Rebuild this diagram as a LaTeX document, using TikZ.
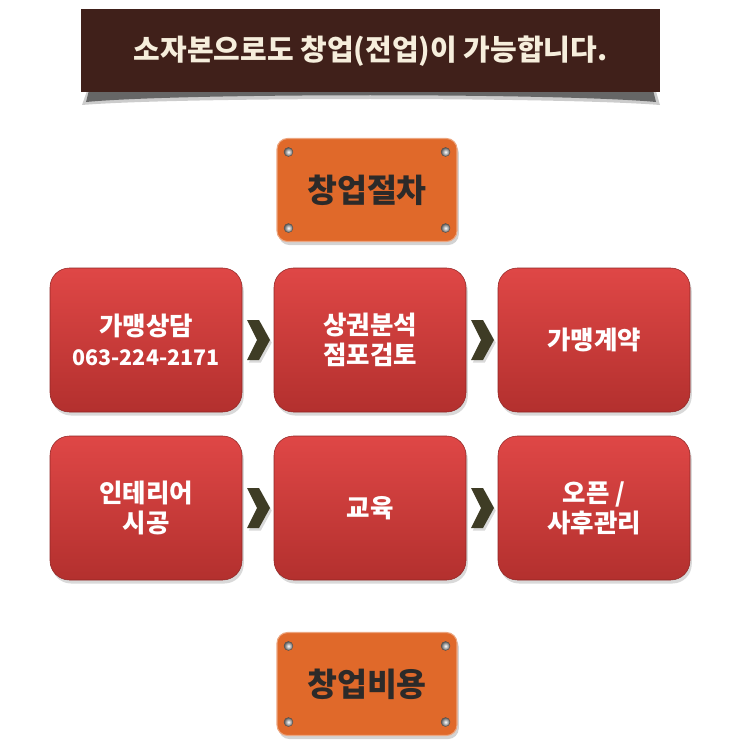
\documentclass[tikz,border=0pt]{standalone}
\usepackage{fontspec}
\setmainfont{Noto Sans CJK KR}
\usetikzlibrary{shadows,calc}

\definecolor{bannerbrown}{HTML}{40201A}
\definecolor{bannertext}{HTML}{F6EEDC}
\definecolor{padorange}{HTML}{E0692A}
\definecolor{padtext}{HTML}{2C2A29}
\definecolor{boxtop}{HTML}{DF4746}
\definecolor{boxbot}{HTML}{B3302E}
\definecolor{chevcol}{HTML}{3E3C25}

\newcommand{\hangul}{\fontsize{14.5}{17}\selectfont}

\tikzset{
  banner/.style={fill=bannerbrown, minimum width=579*0.02cm, minimum height=83*0.02cm,
    text=bannertext, font=\bfseries\fontsize{16.5}{20}\selectfont},
  pad/.style={rounded corners=6pt, fill=padorange, draw=padorange!60!white, line width=.6pt,
    minimum width=180*0.02cm, minimum height=103*0.02cm, text=padtext,
    font=\bfseries\fontsize{18.5}{22}\selectfont,
    drop shadow={shadow xshift=1pt, shadow yshift=-2pt, opacity=.35}},
  stepbox/.style={rounded corners=11pt, top color=boxtop, bottom color=boxbot,
    draw=boxbot!80!black, line width=.3pt,
    minimum width=192*0.02cm, minimum height=144*0.02cm, text=white, align=center,
    font=\bfseries\fontsize{12.2}{17}\selectfont,
    drop shadow={shadow xshift=1pt, shadow yshift=-2pt, opacity=.3}},
  screw/.style={circle, inner sep=0pt, minimum size=9*0.02cm, inner color=white,
    outer color=gray!70!black, draw=gray!60!black, line width=.2pt},
}

\begin{document}
\begin{tikzpicture}[x=0.02cm,y=-0.02cm]
\useasboundingbox (0,0) rectangle (748,750);

% title with curled shadow
\fill[black, opacity=.5] (90,86) -- (652,86) -- (656,102)
  .. controls (560,93) and (180,93) .. (86,102) -- cycle;
\fill[black, opacity=.2] (88,88) -- (655,88) -- (660,105)
  .. controls (560,97) and (180,97) .. (82,105) -- cycle;
\node[banner] (title) at (370.5,51) {소자본으로도 창업(전업)이 가능합니다.};

% orange plates
\node[pad] (procedure) at (367,190) {창업절차};
\node[pad] (cost) at (367,684) {창업비용};
\foreach \p in {procedure,cost} {
  \node[screw] at ($(\p.north west)+(12,14)$) {};
  \node[screw] at ($(\p.north east)+(-12,14)$) {};
  \node[screw] at ($(\p.south west)+(12,-14)$) {};
  \node[screw] at ($(\p.south east)+(-12,-14)$) {};
}

% steps
\node[stepbox] (consult) at (146,340) {{\hangul 가맹상담}\\063-224-2171};
\node[stepbox] (analysis) at (370,340) {\hangul 상권분석\\\hangul 점포검토};
\node[stepbox] (contract) at (594,340) {\hangul 가맹계약};
\node[stepbox] (interior) at (146,508) {\hangul 인테리어\\\hangul 시공};
\node[stepbox] (education) at (370,508) {\hangul 교육};
\node[stepbox] (open) at (594,508) {\hangul 오픈 /\\\hangul 사후관리};

% chevrons
\foreach \a/\b in {consult/analysis,analysis/contract,interior/education,education/open} {
  \path (\a.east) -- (\b.west) coordinate[midway] (mid);
  \fill[chevcol, drop shadow={shadow xshift=1pt, shadow yshift=-1.5pt, opacity=.3}]
    ($(mid)+(-11,-20)$) -- ($(mid)+(1,-20)$) -- ($(mid)+(12,0)$) -- ($(mid)+(1,20)$)
    -- ($(mid)+(-11,20)$) -- ($(mid)+(-1,0)$) -- cycle;
}
\end{tikzpicture}
\end{document}
